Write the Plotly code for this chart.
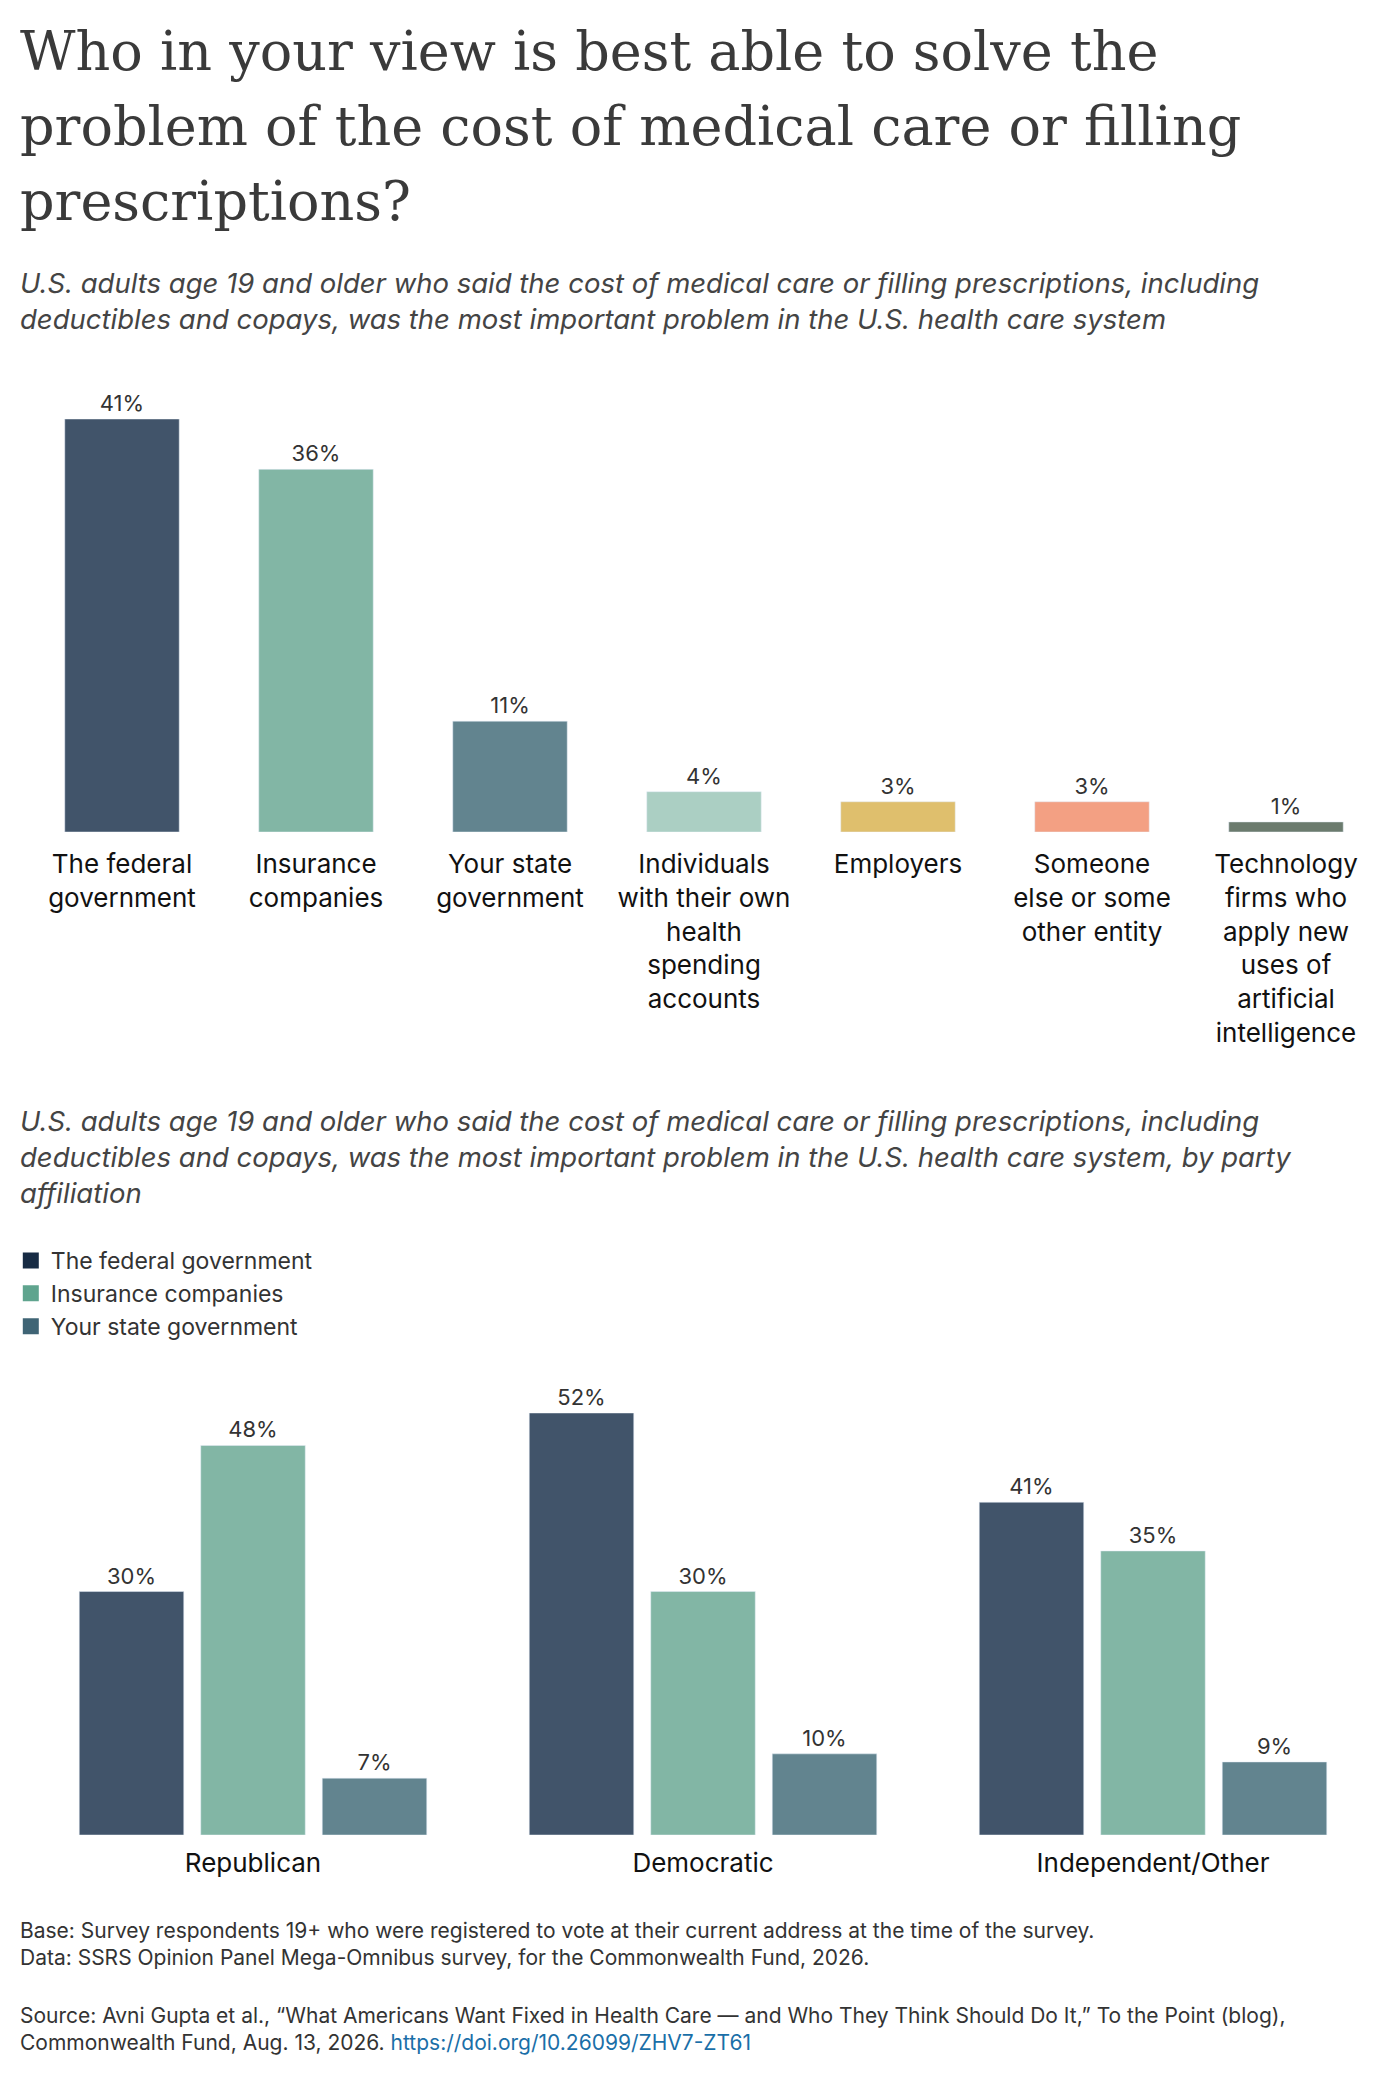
import plotly.graph_objects as go

H = 2077
W = 1400

title_lines = ["Who in your view is best able to solve the",
               "problem of the cost of medical care or filling",
               "prescriptions?"]
categories = ["The federal<br>government", "Insurance<br>companies", "Your state<br>government",
              "Individuals<br>with their own<br>health<br>spending<br>accounts", "Employers",
              "Someone<br>else or some<br>other entity",
              "Technology<br>firms who<br>apply new<br>uses of<br>artificial<br>intelligence"]
overall = [41, 36, 11, 4, 3, 3, 1]
bar_colors = ["#41546a", "#82b6a5", "#62848f", "#abcfc3", "#dfbf6d", "#f3a083", "#6b7b6e"]

parties = ["Republican", "Democratic", "Independent/Other"]
series_names = ["The federal government", "Insurance companies", "Your state government"]
federal = [30, 52, 41]
insurance = [48, 30, 35]
state = [7, 10, 9]
series_colors = ["#41546a", "#82b6a5", "#62848f"]
legend_colors = ["#172b44", "#5fa48e", "#3f6475"]

TEXT = "#333333"
SANS = "Inter, Noto Sans, sans-serif"


def py(px):
    return 1 - px / H


fig = go.Figure()

fig.add_trace(go.Bar(
    x=categories, y=overall, marker_color=bar_colors, width=0.59,
    text=[f"{v}%" for v in overall], textposition="outside", cliponaxis=False,
    textfont=dict(size=22, color=TEXT, family=SANS),
    xaxis="x", yaxis="y", showlegend=False, hoverinfo="skip"))

for name, vals, col in zip(series_names, [federal, insurance, state], series_colors):
    fig.add_trace(go.Bar(
        x=parties, y=vals, name=name, marker_color=col,
        text=[f"{v}%" for v in vals], textposition="outside", cliponaxis=False,
        textfont=dict(size=22, color=TEXT, family=SANS),
        xaxis="x2", yaxis="y2", showlegend=False, hoverinfo="skip"))

# legend entries with the darker swatch colours
for name, col in zip(series_names, legend_colors):
    fig.add_trace(go.Scatter(
        x=[None], y=[None], mode="markers", name=name,
        marker=dict(symbol="square", size=20, color=col),
        xaxis="x2", yaxis="y2"))

fig.update_layout(
    width=W, height=H,
    margin=dict(l=0, r=0, t=0, b=0),
    paper_bgcolor="white", plot_bgcolor="white",
    barmode="group", bargap=0.19, bargroupgap=0.14,
    font=dict(family=SANS, color=TEXT),
    xaxis=dict(domain=[17 / W, 1375 / W], showgrid=False, showline=False, ticks="",
               tickfont=dict(size=26, color="#111111"), ticklabelstandoff=14),
    yaxis=dict(domain=[py(824), py(411)], range=[0, 41], visible=False),
    xaxis2=dict(domain=[20 / W, 1370 / W], showgrid=False, showline=False, ticks="",
                tickfont=dict(size=26, color="#111111"), anchor="y2", ticklabelstandoff=10),
    yaxis2=dict(domain=[py(1827), py(1405)], range=[0, 52], visible=False),
    legend=dict(x=0.002, y=py(1231), xanchor="left", yanchor="top",
                font=dict(size=23, color=TEXT), itemwidth=30, tracegroupgap=0,
                bgcolor="rgba(0,0,0,0)"),
)

annotations = [
    dict(text="<i>U.S. adults age 19 and older who said the cost of medical care or filling prescriptions, including<br>"
              "deductibles and copays, was the most important problem in the U.S. health care system</i>",
         x=10, y=256, font=dict(size=27.5, color="#444444")),
    dict(text="<i>U.S. adults age 19 and older who said the cost of medical care or filling prescriptions, including<br>"
              "deductibles and copays, was the most important problem in the U.S. health care system, by party<br>"
              "affiliation</i>",
         x=10, y=1094, font=dict(size=27.5, color="#444444")),
    dict(text="Base: Survey respondents 19+ who were registered to vote at their current address at the time of the survey.<br>"
              "Data: SSRS Opinion Panel Mega-Omnibus survey, for the Commonwealth Fund, 2026.",
         x=10, y=1908, font=dict(size=21, color=TEXT)),
    dict(text="Source: Avni Gupta et al., \u201cWhat Americans Want Fixed in Health Care \u2014 and Who They Think Should Do It,\u201d To the Point (blog),<br>"
              "Commonwealth Fund, Aug. 13, 2026. <span style='color:#1a6fa8'>https://doi.org/10.26099/ZHV7-ZT61</span>",
         x=10, y=1993, font=dict(size=21, color=TEXT)),
]
for i, line in enumerate(title_lines):
    annotations.append(dict(text=line, x=10, y=10 + 75 * i,
                            font=dict(family="DejaVu Serif, serif", size=54, color="#3a3a3a")))

for a in annotations:
    fig.add_annotation(text=a["text"], x=a["x"] / W, y=py(a["y"]), xref="paper", yref="paper",
                       xanchor="left", yanchor="top", align="left", showarrow=False, font=a["font"])

fig.write_html("out.html")
